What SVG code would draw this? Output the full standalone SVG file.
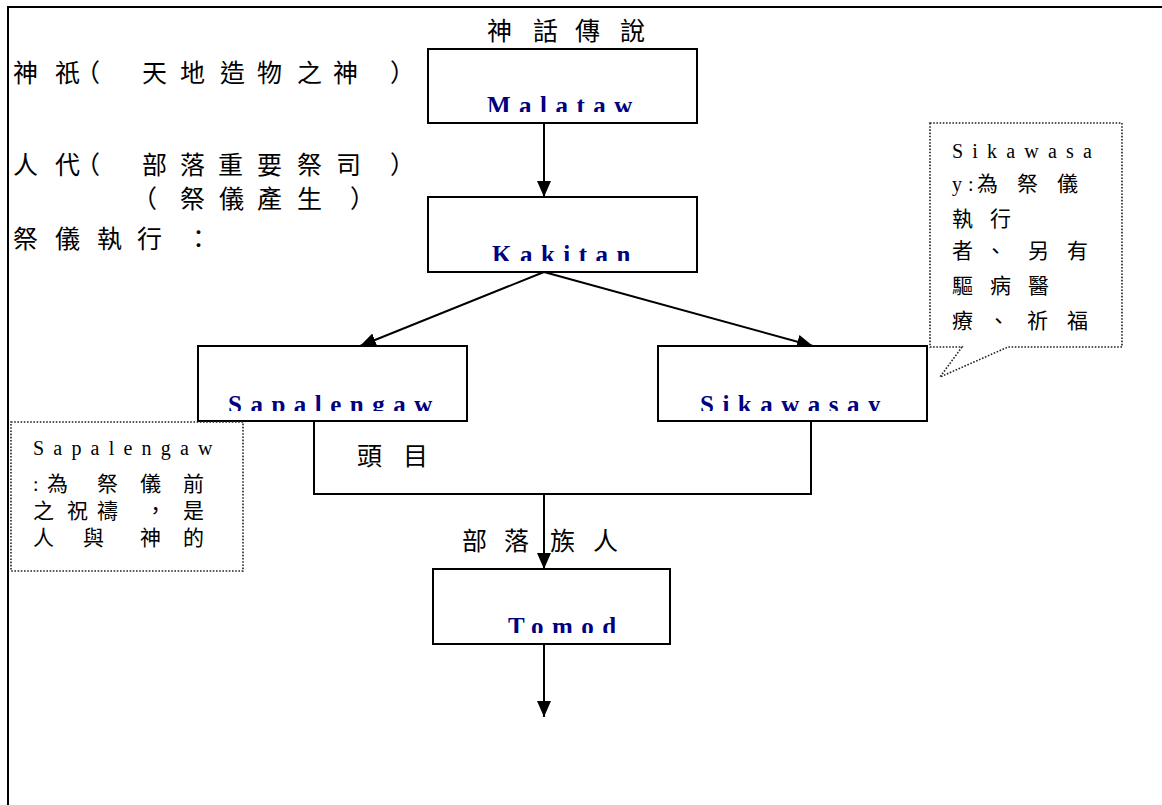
<svg xmlns="http://www.w3.org/2000/svg" width="1162" height="805" viewBox="0 0 1162 805">
<style>
.frame{stroke:#000;stroke-width:2;fill:none}
.box{fill:#fff;stroke:#000;stroke-width:2}
.conn{stroke:#000;stroke-width:2;fill:none}
.dot{fill:#fff;stroke:#222;stroke-width:1.6;stroke-dasharray:1.6 1.6}
.cjk{font-family:"Liberation Serif","Noto Sans CJK TC",serif;font-size:25px;fill:#000}
.note{font-family:"Liberation Serif","Noto Sans CJK TC",serif;font-size:21px;fill:#000}
.lat{font-family:"Liberation Serif",serif;font-size:20px;letter-spacing:9.2px;fill:#000}
.name{font-family:"Liberation Serif",serif;font-weight:bold;font-size:25px;letter-spacing:8.5px;fill:#000080}
</style>
<defs>
<marker id="arr" markerUnits="userSpaceOnUse" markerWidth="17" markerHeight="14" refX="16" refY="7" orient="auto">
<path d="M0,0 L16,7 L0,14 Z" fill="#000"/>
</marker>
<clipPath id="c1"><rect x="428" y="49" width="269" height="63"/></clipPath>
<clipPath id="c2"><rect x="428" y="197" width="269" height="64"/></clipPath>
<clipPath id="c3"><rect x="198" y="346" width="269" height="65"/></clipPath>
<clipPath id="c4"><rect x="658" y="346" width="269" height="65"/></clipPath>
<clipPath id="c5"><rect x="433" y="569" width="237" height="64"/></clipPath>
</defs>
<rect width="1162" height="805" fill="#fff"/>
<path class="frame" d="M8,805 V7 H1162"/>

<g id="labels-left">
<text class="cjk" x="13 55 75 142 180 220 257 297 333 390" y="82">神祇（天地造物之神）</text>
<text class="cjk" x="13 55 75 142 180 218 257 297 336 390" y="174">人代（部落重要祭司）</text>
<text class="cjk" x="132 180 219 257 297 350" y="208">（祭儀產生）</text>
<text class="cjk" x="13 55 97 137 186" y="248">祭儀執行：</text>
</g>
<g id="title">
<text class="cjk" font-size="24" x="487 533 575 620" y="40">神話傳說</text>
</g>

<g id="connectors">
<line class="conn" x1="544" y1="123" x2="544" y2="197" marker-end="url(#arr)"/>
<line class="conn" x1="544" y1="272" x2="360" y2="346" marker-end="url(#arr)"/>
<line class="conn" x1="544" y1="272" x2="813" y2="346" marker-end="url(#arr)"/>
<path class="conn" d="M314,421 V494 H811 V421"/>
<line class="conn" x1="544" y1="494" x2="544" y2="569" marker-end="url(#arr)"/>
<line class="conn" x1="544" y1="644" x2="544" y2="717" marker-end="url(#arr)"/>
</g>

<g id="node-malataw">
<rect class="box" x="428" y="49" width="269" height="74"/>
<text class="name" x="487" y="114" clip-path="url(#c1)">Malataw</text>
</g>
<g id="node-kakitan">
<rect class="box" x="428" y="197" width="269" height="75"/>
<text class="name" x="492" y="263" clip-path="url(#c2)">Kakitan</text>
</g>
<g id="node-sapalengaw">
<rect class="box" x="198" y="346" width="269" height="75"/>
<text class="name" x="228" y="413" clip-path="url(#c3)">Sapalengaw</text>
</g>
<g id="node-sikawasay">
<rect class="box" x="658" y="346" width="269" height="75"/>
<text class="name" x="700" y="413" clip-path="url(#c4)">Sikawasay</text>
</g>
<g id="node-tomod">
<rect class="box" x="433" y="569" width="237" height="75"/>
<text class="name" x="508" y="635" clip-path="url(#c5)">Tomod</text>
</g>

<g id="label-toumu">
<text class="cjk" font-size="24" x="357 403" y="465">頭目</text>
</g>
<g id="label-buluo">
<text class="cjk" font-size="24" x="462 504 550 593" y="550">部落族人</text>
</g>

<g id="note-sikawasay">
<path class="dot" d="M930,123 H1122 V347 H1008 L940,377 L962,347 H930 Z"/>
<text class="lat" x="952" y="158">Sikawasa</text>
<text class="note" y="191"><tspan x="952" font-size="20">y</tspan><tspan x="968" font-size="20">:</tspan><tspan x="977">為</tspan><tspan x="1017">祭</tspan><tspan x="1057">儀</tspan></text>
<text class="note" x="952 990" y="226">執行</text>
<text class="note" x="952 985 1028 1067" y="258">者、另有</text>
<text class="note" x="952 990 1028" y="293">驅病醫</text>
<text class="note" x="952 988 1027 1067" y="328">療、祈福</text>
</g>

<g id="note-sapalengaw">
<rect class="dot" x="11" y="422" width="232" height="149"/>
<text class="lat" x="33" y="455">Sapalengaw</text>
<text class="note" y="491"><tspan x="33" font-size="20">:</tspan><tspan x="47">為</tspan><tspan x="97">祭</tspan><tspan x="140">儀</tspan><tspan x="183">前</tspan></text>
<text class="note" x="33 67 97 145 183" y="518">之祝禱，是</text>
<text class="note" x="33 83 140 183" y="545">人與神的</text>
</g>
</svg>
